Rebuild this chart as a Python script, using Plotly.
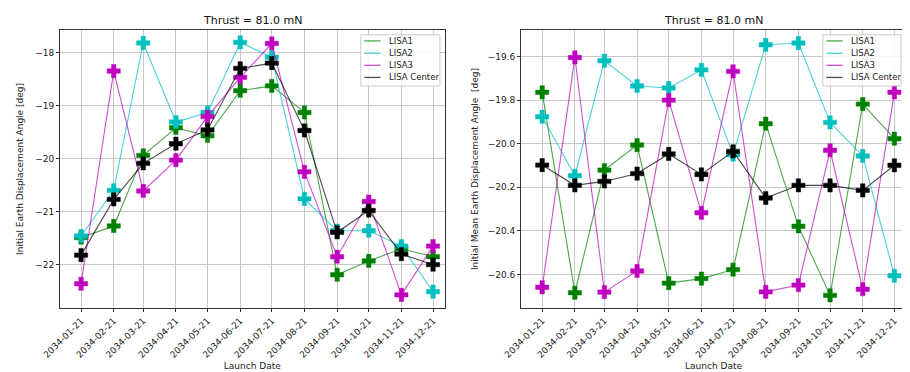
import plotly.graph_objects as go
from plotly.subplots import make_subplots

dates = ["2034-01-21", "2034-02-21", "2034-03-21", "2034-04-21", "2034-05-21", "2034-06-21",
         "2034-07-21", "2034-08-21", "2034-09-21", "2034-10-21", "2034-11-21", "2034-12-21"]

series_names = ["LISA1", "LISA2", "LISA3", "LISA Center"]

# Left panel: Initial Earth Displacement Angle [deg]
left_lisa1 = [-21.49, -21.27, -19.94, -19.42, -19.57, -18.72, -18.63, -19.13, -22.19, -21.93, -21.70, -21.85]
left_lisa2 = [-21.46, -20.60, -17.82, -19.31, -19.13, -17.81, -18.09, -20.76, -21.36, -21.36, -21.65, -22.51]
left_lisa3 = [-22.36, -18.35, -20.61, -20.03, -19.21, -18.47, -17.83, -20.25, -21.85, -20.81, -22.57, -21.65]
left_center = [-21.82, -20.77, -20.09, -19.72, -19.46, -18.30, -18.20, -19.47, -21.39, -20.98, -21.80, -22.00]

# Right panel: Initial Mean Earth Displacement Angle [deg]
right_lisa1 = [-19.764, -20.684, -20.121, -20.006, -20.640, -20.619, -20.578, -19.908, -20.379, -20.696, -19.818, -19.977]
right_lisa2 = [-19.876, -20.147, -19.619, -19.735, -19.744, -19.661, -20.050, -19.546, -19.538, -19.902, -20.056, -20.606]
right_lisa3 = [-20.659, -19.604, -20.681, -20.584, -19.800, -20.317, -19.668, -20.680, -20.649, -20.030, -20.668, -19.764]
right_center = [-20.098, -20.191, -20.173, -20.137, -20.047, -20.141, -20.035, -20.249, -20.191, -20.191, -20.214, -20.099]

title_text = "Thrust = 81.0 mN"
left_ylabel = "Initial Earth Displacement Angle [deg]"
right_ylabel = "Initial Mean Earth Displacement Angle  [deg]"
xlabel = "Launch Date"

marker_colors = ["#008000", "#00bfbf", "#bf00bf", "#000000"]
line_colors = ["rgba(0,128,0,0.7)", "rgba(0,191,191,0.7)", "rgba(191,0,191,0.7)", "rgba(0,0,0,0.7)"]

FONT = "DejaVu Sans"

fig = make_subplots(rows=1, cols=2, horizontal_spacing=0.09)

panels = [
    (1, [left_lisa1, left_lisa2, left_lisa3, left_center]),
    (2, [right_lisa1, right_lisa2, right_lisa3, right_center]),
]
for col, ys in panels:
    for name, y, lc, mc in zip(series_names, ys, line_colors, marker_colors):
        fig.add_trace(go.Scatter(x=dates, y=y, mode="lines", name=name,
                                 line=dict(color=lc, width=1.1), showlegend=False),
                      row=1, col=col)
        fig.add_trace(go.Scatter(x=dates, y=y, mode="markers", name=name,
                                 marker=dict(symbol="cross", size=11, color=mc,
                                             line=dict(width=0.5, color=mc)),
                                 showlegend=False), row=1, col=col)

W, H = 910, 372
ml, mr, mt, mb = 44, 11, 22, 57
pw = W - ml - mr
ph = H - mt - mb
d1 = [0, (432.7 - ml) / pw]
d2 = [(510 - ml) / pw, 1]


def px_x(px):
    return (px - ml) / pw


def px_y(py):
    return (H - mb - py) / ph


axis_common = dict(showgrid=True, gridcolor="#c8c8c8", gridwidth=1, showline=True,
                   linecolor="#333333", linewidth=1, mirror=True, ticks="outside",
                   ticklen=3, tickcolor="#333333", zeroline=False,
                   tickfont=dict(family=FONT, size=9, color="#222222"))

for i, dom in ((1, d1), (2, d2)):
    fig.update_xaxes(domain=dom, range=["2034-01-01", "2035-01-01"], tickvals=dates,
                     ticktext=dates, tickangle=-45,
                     title=dict(text=xlabel, font=dict(family=FONT, size=9, color="#222222"), standoff=3),
                     row=1, col=i, **axis_common)

fig.update_yaxes(range=[-22.817, -17.576], tickvals=[-18, -19, -20, -21, -22],
                 title=dict(text=left_ylabel, font=dict(family=FONT, size=9, color="#222222"), standoff=10),
                 row=1, col=1, **axis_common)
fig.update_yaxes(range=[-20.754, -19.478], tickvals=[-19.6, -19.8, -20.0, -20.2, -20.4, -20.6],
                 tickformat=".1f",
                 title=dict(text=right_ylabel, font=dict(family=FONT, size=9, color="#222222"), standoff=7),
                 row=1, col=2, **axis_common)

for dom in (d1, d2):
    fig.add_annotation(text=title_text, x=(dom[0] + dom[1]) / 2, y=1, xref="paper", yref="paper",
                       yanchor="bottom", xanchor="center", yshift=1, showarrow=False,
                       font=dict(family=FONT, size=11, color="#111111"))

# Hand-drawn legends (matplotlib style: compact box in the upper right of each panel)
legend_boxes = [(348, 428), (815, 894)]
box_top, box_bottom = 27, 81
entry_y = [33.5, 46.5, 59.2, 72]
for bx0, bx1 in legend_boxes:
    fig.add_shape(type="rect", xref="paper", yref="paper",
                  x0=px_x(bx0), x1=px_x(bx1), y0=px_y(box_bottom), y1=px_y(box_top),
                  fillcolor="rgba(255,255,255,0.85)", line=dict(color="#cccccc", width=1),
                  layer="above")
    for name, lc, ey in zip(series_names, line_colors, entry_y):
        fig.add_shape(type="line", xref="paper", yref="paper",
                      x0=px_x(bx0 + 3.5), x1=px_x(bx0 + 20), y0=px_y(ey), y1=px_y(ey),
                      line=dict(color=lc, width=1.3), layer="above")
        fig.add_annotation(text=name, x=px_x(bx0 + 26), y=px_y(ey), xref="paper", yref="paper",
                           xanchor="left", yanchor="middle", showarrow=False,
                           font=dict(family=FONT, size=8.5, color="#222222"))

fig.update_layout(
    width=W, height=H,
    margin=dict(l=ml, r=mr, t=mt, b=mb),
    plot_bgcolor="white", paper_bgcolor="white",
    font=dict(family=FONT),
    showlegend=False,
)

fig.write_html("out.html")
